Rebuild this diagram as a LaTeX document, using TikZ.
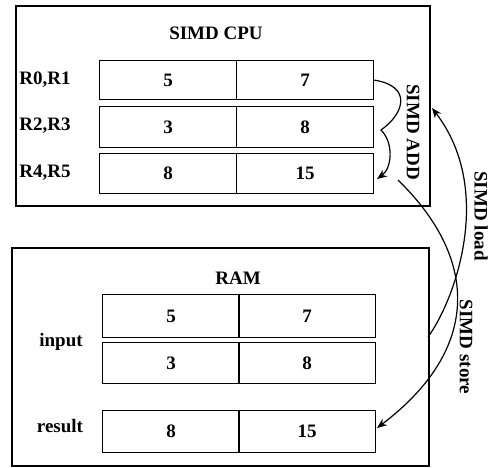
\documentclass[tikz,border=0pt]{standalone}
\usepackage{fontspec}
\setmainfont{Liberation Serif}
\usetikzlibrary{arrows.meta}
\begin{document}
\begin{tikzpicture}[x=1pt,y=-1pt,
  every node/.style={font=\fontsize{19}{21}\selectfont\bfseries, inner sep=0pt},
  frame/.style={draw, line width=1.5pt, anchor=north west},
  cell/.style={draw, line width=1.2pt, anchor=north west, minimum width=137pt},
  flow/.style={line width=1.2pt, -{Stealth[length=10pt,width=8pt]}},
  vlabel/.style={rotate=-90}]
\useasboundingbox (0,0) rectangle (493,467);

% processor with its three register pairs
\node[frame, minimum width=414pt, minimum height=200pt] (cpu) at (15,5) {};
\node (cputitle) at (216,33) {SIMD CPU};
\node[cell, minimum height=39pt] (c1l) at (99,60) {5};
\node[cell, minimum height=39pt] (c1r) at (236,60) {7};
\node[cell, minimum height=41pt] (c2l) at (99,106) {3};
\node[cell, minimum height=41pt] (c2r) at (236,106) {8};
\node[cell, minimum height=40pt] (c3l) at (99,153) {8};
\node[cell, minimum height=40pt] (c3r) at (236,153) {15};
\node (r01) at (45,80) {R0,R1};
\node (r23) at (45,126) {R2,R3};
\node (r45) at (45,173) {R4,R5};

% memory with input and result words
\node[frame, minimum width=417pt, minimum height=218pt] (ram) at (11,247) {};
\node (ramtitle) at (238,278) {RAM};
\node[cell, minimum height=43pt] (m1l) at (102,294) {5};
\node[cell, minimum height=43pt] (m1r) at (238,294) {7};
\node[cell, minimum height=41pt] (m2l) at (102,342) {3};
\node[cell, minimum height=41pt] (m2r) at (238,342) {8};
\node[cell, minimum height=42pt] (m3l) at (102,410) {8};
\node[cell, minimum height=42pt] (m3r) at (238,410) {15};
\node (inp) at (61,342) {input};
\node (res) at (60,426) {result};

% ends of the transfer curves
\coordinate (addmid) at (381,130);
\coordinate (addend) at (377,179);
\coordinate (loadfrom) at (428,337);
\coordinate (loadto) at (432,108);
\coordinate (storefrom) at (398,180);
\coordinate (storeto) at (377,428);

% SIMD ADD
\draw[flow] (c1r.east) .. controls (412,86) and (405,113) .. (addmid)
  .. controls (394,143) and (392,168) .. (addend);
\node[vlabel] (addlbl) at (413,132) {SIMD ADD};

% SIMD load
\draw[flow] (loadfrom) .. controls (455,300) and (495,190) .. (loadto);
\node[vlabel] (loadlbl) at (481,216) {SIMD load};

% SIMD store
\draw[flow] (storefrom) .. controls (480,260) and (480,350) .. (storeto);
\node[vlabel] (storelbl) at (466,347) {SIMD store};
\end{tikzpicture}
\end{document}
